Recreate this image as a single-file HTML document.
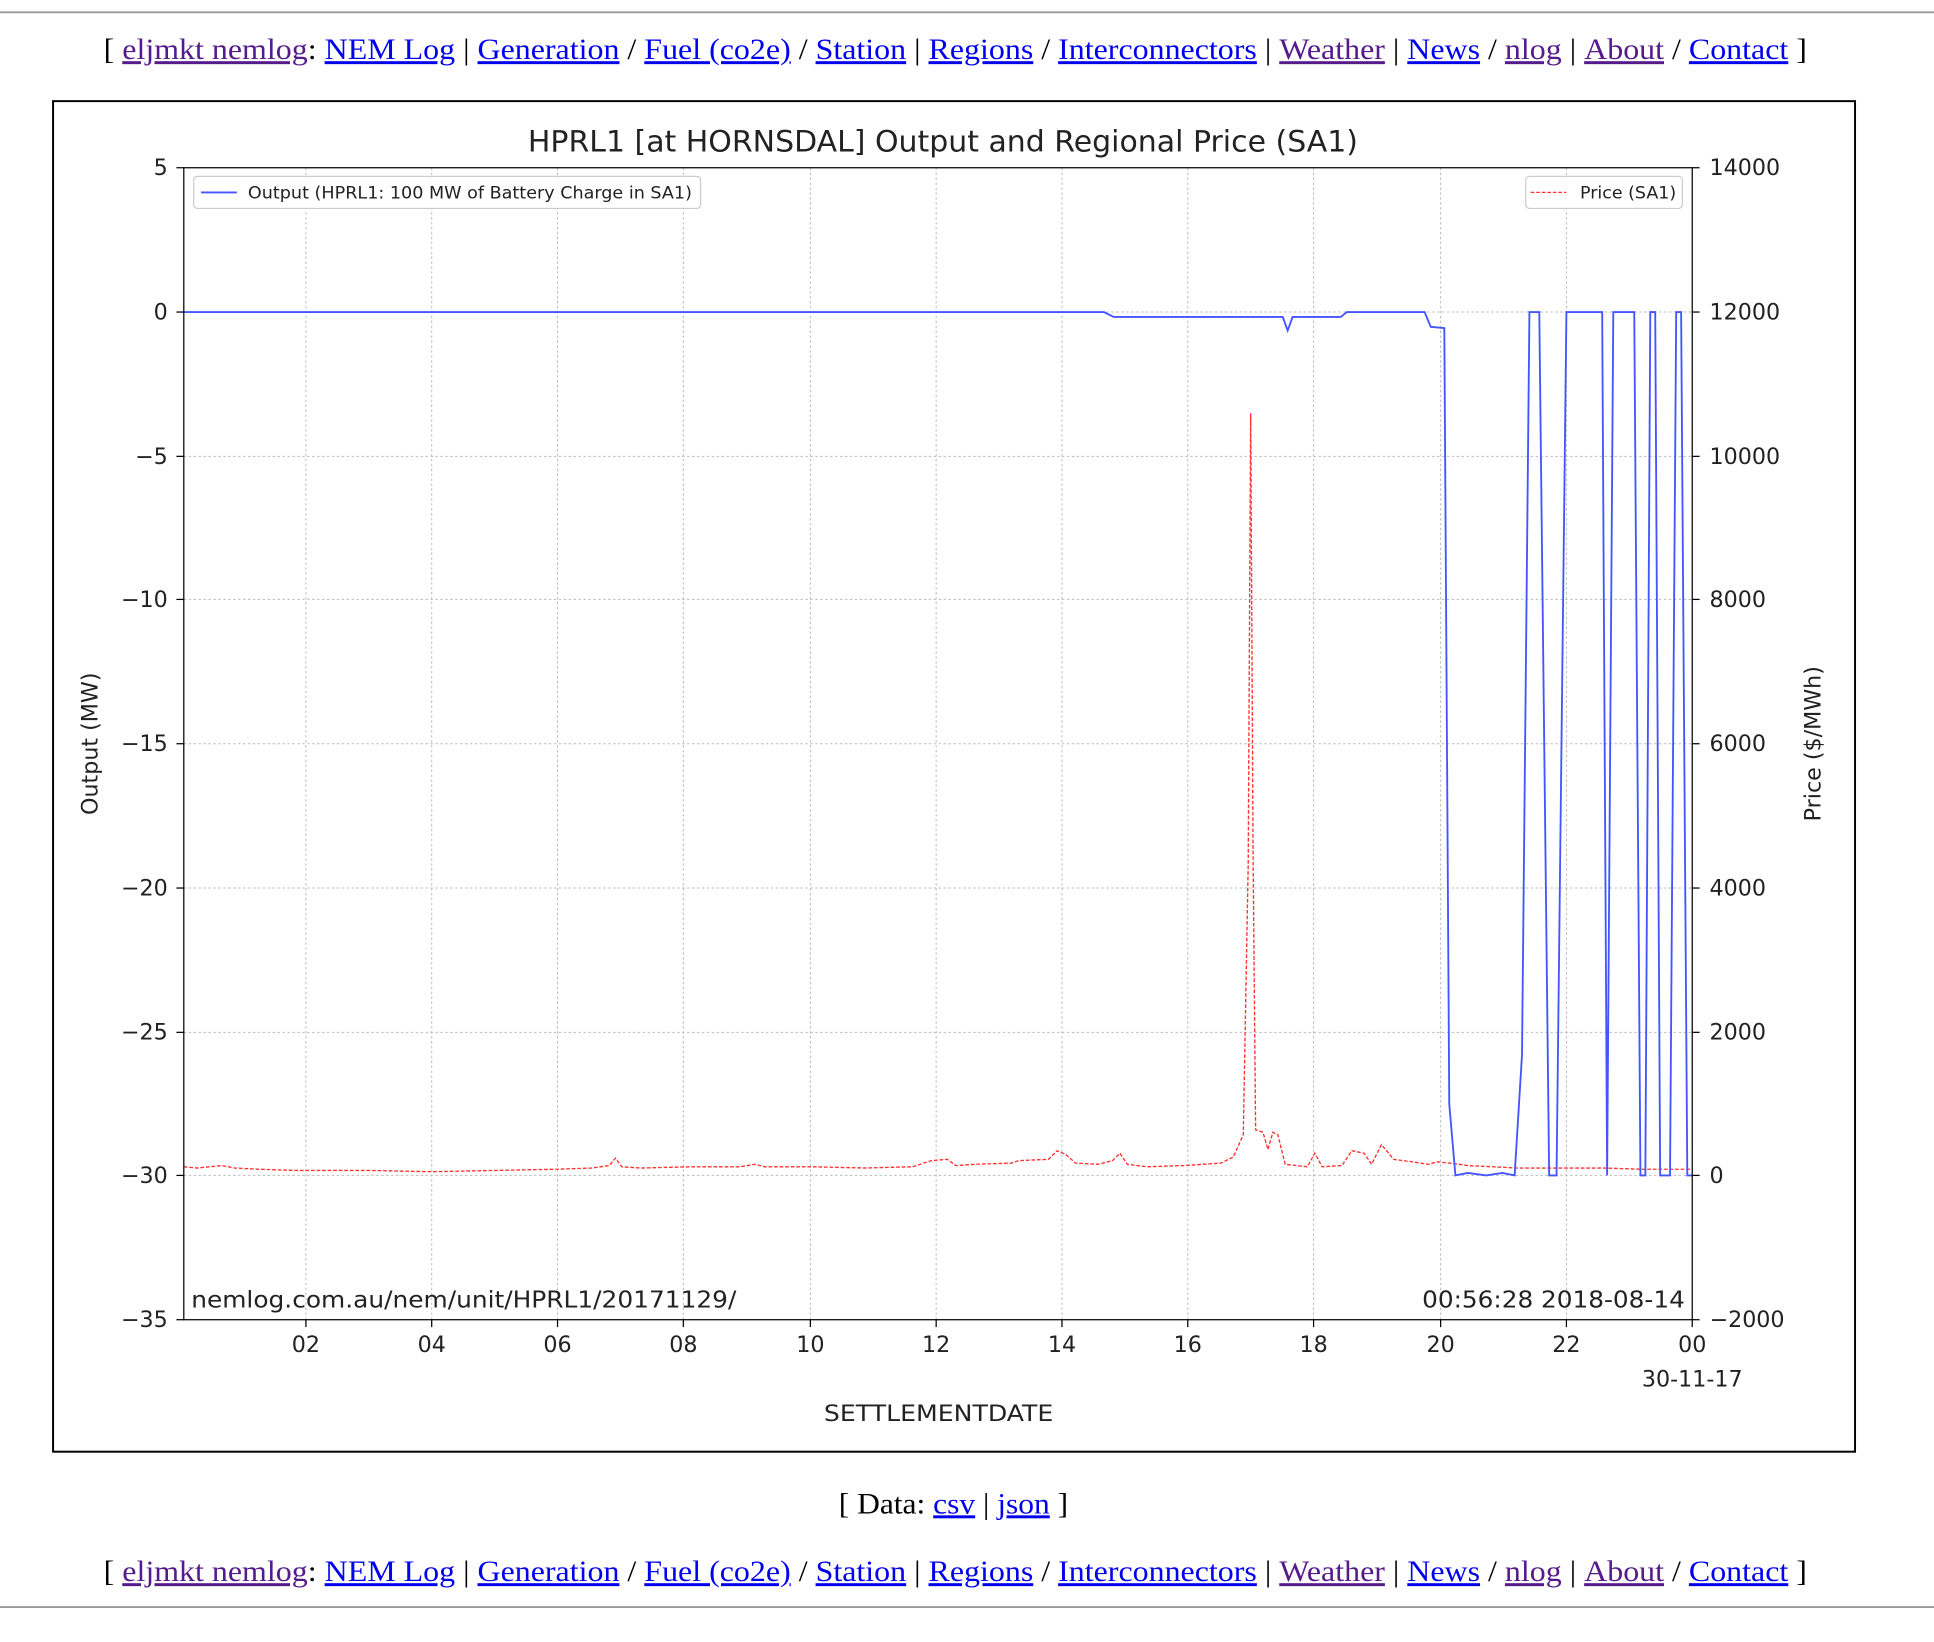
<!DOCTYPE html>
<html><head><meta charset="utf-8"><style>
html,body{margin:0;padding:0;background:#fff;}
svg{display:block}
</style></head><body>
<svg width="1934" height="1642" viewBox="0 0 1568 1331.3" xmlns="http://www.w3.org/2000/svg">
<rect x="0" y="0" width="1568" height="1332" fill="#fff"/>
<line x1="0" y1="10" x2="1568" y2="10" stroke="#999" stroke-width="1.5"/>
<g font-family="Liberation Serif, serif" font-size="24">
<text x="84" y="48" textLength="1381" lengthAdjust="spacingAndGlyphs">[ <tspan fill="#551a8b" text-decoration="underline">eljmkt nemlog</tspan>: <tspan fill="#0000ee" text-decoration="underline">NEM Log</tspan> | <tspan fill="#0000ee" text-decoration="underline">Generation</tspan> / <tspan fill="#0000ee" text-decoration="underline">Fuel (co2e)</tspan> / <tspan fill="#0000ee" text-decoration="underline">Station</tspan> | <tspan fill="#0000ee" text-decoration="underline">Regions</tspan> / <tspan fill="#0000ee" text-decoration="underline">Interconnectors</tspan> | <tspan fill="#551a8b" text-decoration="underline">Weather</tspan> | <tspan fill="#0000ee" text-decoration="underline">News</tspan> / <tspan fill="#551a8b" text-decoration="underline">nlog</tspan> | <tspan fill="#551a8b" text-decoration="underline">About</tspan> / <tspan fill="#0000ee" text-decoration="underline">Contact</tspan> ]</text>
<text x="84" y="1282" textLength="1381" lengthAdjust="spacingAndGlyphs">[ <tspan fill="#551a8b" text-decoration="underline">eljmkt nemlog</tspan>: <tspan fill="#0000ee" text-decoration="underline">NEM Log</tspan> | <tspan fill="#0000ee" text-decoration="underline">Generation</tspan> / <tspan fill="#0000ee" text-decoration="underline">Fuel (co2e)</tspan> / <tspan fill="#0000ee" text-decoration="underline">Station</tspan> | <tspan fill="#0000ee" text-decoration="underline">Regions</tspan> / <tspan fill="#0000ee" text-decoration="underline">Interconnectors</tspan> | <tspan fill="#551a8b" text-decoration="underline">Weather</tspan> | <tspan fill="#0000ee" text-decoration="underline">News</tspan> / <tspan fill="#551a8b" text-decoration="underline">nlog</tspan> | <tspan fill="#551a8b" text-decoration="underline">About</tspan> / <tspan fill="#0000ee" text-decoration="underline">Contact</tspan> ]</text>
<text x="680" y="1227" textLength="186" lengthAdjust="spacingAndGlyphs">[ Data: <tspan fill="#0000ee" text-decoration="underline">csv</tspan> | <tspan fill="#0000ee" text-decoration="underline">json</tspan> ]</text>
</g>
<line x1="0" y1="1303" x2="1568" y2="1303" stroke="#999" stroke-width="1.5"/>
<rect x="43" y="82" width="1461" height="1095" fill="#fff" stroke="#000" stroke-width="1.6"/>
<g stroke="#bbb" stroke-width="0.8" stroke-dasharray="2,2">
<line x1="248" y1="136" x2="248" y2="1070"/><line x1="350" y1="136" x2="350" y2="1070"/>
<line x1="452" y1="136" x2="452" y2="1070"/><line x1="554" y1="136" x2="554" y2="1070"/>
<line x1="657" y1="136" x2="657" y2="1070"/><line x1="759" y1="136" x2="759" y2="1070"/>
<line x1="861" y1="136" x2="861" y2="1070"/><line x1="963" y1="136" x2="963" y2="1070"/>
<line x1="1065" y1="136" x2="1065" y2="1070"/><line x1="1168" y1="136" x2="1168" y2="1070"/>
<line x1="1270" y1="136" x2="1270" y2="1070"/>
<line x1="149" y1="253" x2="1372" y2="253"/><line x1="149" y1="370" x2="1372" y2="370"/>
<line x1="149" y1="486" x2="1372" y2="486"/><line x1="149" y1="603" x2="1372" y2="603"/>
<line x1="149" y1="720" x2="1372" y2="720"/><line x1="149" y1="837" x2="1372" y2="837"/>
<line x1="149" y1="953" x2="1372" y2="953"/>
</g>
<polyline fill="none" stroke="#f33" stroke-width="1.1" stroke-dasharray="3,1.5" points="149,946 160,947 170,946 180,945 190,947 210,948 240,949 300,949 350,950 400,949 450,948 480,947 494,945 499,939 504,946 520,947 560,946 600,946 612,944 620,946 660,946 700,947 740,946 755,941 768,940 775,945 790,944 820,943 826,941 850,940 857,933 864,936 872,943 890,944 902,941 908,935 914,944 930,946 960,945 990,943 1000,938 1008,920 1012,700 1014,335 1016,700 1018,916 1024,918 1028,932 1032,918 1036,920 1042,944 1060,946 1066,935 1072,946 1088,945 1096,933 1106,935 1112,944 1120,928 1130,940 1145,942 1158,944 1165,942 1175,943 1190,945 1230,947 1260,947 1300,947 1330,948 1372,948"/>
<polyline fill="none" stroke="#4455ff" stroke-width="1.5" points="149,253 895,253 903,257 1040,257 1044,268 1048,257 1087,257 1092,253 1155,253 1160,265 1171,266 1175,895 1180,953 1190,951 1205,953 1218,951 1228,953 1234,855 1240,253 1248,253 1256,953 1262,953 1270,253 1299,253 1303,953 1308,253 1325,253 1330,953 1334,953 1338,253 1342,253 1346,953 1354,953 1359,253 1363,253 1368,953 1372,953"/>
<rect x="149" y="136" width="1223" height="934" fill="none" stroke="#000" stroke-width="1"/>
<g stroke="#000" stroke-width="1">
<line x1="143" y1="136" x2="149" y2="136"/><line x1="143" y1="253" x2="149" y2="253"/><line x1="143" y1="370" x2="149" y2="370"/><line x1="143" y1="486" x2="149" y2="486"/><line x1="143" y1="603" x2="149" y2="603"/><line x1="143" y1="720" x2="149" y2="720"/><line x1="143" y1="837" x2="149" y2="837"/><line x1="143" y1="953" x2="149" y2="953"/><line x1="143" y1="1070" x2="149" y2="1070"/>
<line x1="1372" y1="136" x2="1378" y2="136"/><line x1="1372" y1="253" x2="1378" y2="253"/><line x1="1372" y1="370" x2="1378" y2="370"/><line x1="1372" y1="486" x2="1378" y2="486"/><line x1="1372" y1="603" x2="1378" y2="603"/><line x1="1372" y1="720" x2="1378" y2="720"/><line x1="1372" y1="837" x2="1378" y2="837"/><line x1="1372" y1="953" x2="1378" y2="953"/><line x1="1372" y1="1070" x2="1378" y2="1070"/>
<line x1="248" y1="1070" x2="248" y2="1076"/><line x1="350" y1="1070" x2="350" y2="1076"/><line x1="452" y1="1070" x2="452" y2="1076"/><line x1="554" y1="1070" x2="554" y2="1076"/><line x1="657" y1="1070" x2="657" y2="1076"/><line x1="759" y1="1070" x2="759" y2="1076"/><line x1="861" y1="1070" x2="861" y2="1076"/><line x1="963" y1="1070" x2="963" y2="1076"/><line x1="1065" y1="1070" x2="1065" y2="1076"/><line x1="1168" y1="1070" x2="1168" y2="1076"/><line x1="1270" y1="1070" x2="1270" y2="1076"/><line x1="1372" y1="1070" x2="1372" y2="1076"/>
</g>
<g font-family="DejaVu Sans, sans-serif" font-size="18" fill="#222">
<text x="428" y="123" font-size="24" textLength="673" lengthAdjust="spacingAndGlyphs">HPRL1 [at HORNSDAL] Output and Regional Price (SA1)</text>
<g text-anchor="end">
<text x="136" y="142">5</text><text x="136" y="259">0</text><text x="136" y="376">−5</text><text x="136" y="492">−10</text><text x="136" y="609">−15</text><text x="136" y="726">−20</text><text x="136" y="843">−25</text><text x="136" y="959">−30</text><text x="136" y="1076">−35</text>
</g>
<g>
<text x="1386" y="142">14000</text><text x="1386" y="259">12000</text><text x="1386" y="376">10000</text><text x="1386" y="492">8000</text><text x="1386" y="609">6000</text><text x="1386" y="726">4000</text><text x="1386" y="843">2000</text><text x="1386" y="959">0</text><text x="1386" y="1076">−2000</text>
</g>
<g text-anchor="middle">
<text x="248" y="1096">02</text><text x="350" y="1096">04</text><text x="452" y="1096">06</text><text x="554" y="1096">08</text><text x="657" y="1096">10</text><text x="759" y="1096">12</text><text x="861" y="1096">14</text><text x="963" y="1096">16</text><text x="1065" y="1096">18</text><text x="1168" y="1096">20</text><text x="1270" y="1096">22</text><text x="1372" y="1096">00</text>
<text x="1372" y="1124">30-11-17</text>
<text transform="translate(79,603) rotate(-90)">Output (MW)</text>
<text transform="translate(1476,603) rotate(-90)">Price ($/MWh)</text>
</g>
<text x="668" y="1152" textLength="186" lengthAdjust="spacingAndGlyphs">SETTLEMENTDATE</text>
<text x="155" y="1060" font-size="19" textLength="442" lengthAdjust="spacingAndGlyphs">nemlog.com.au/nem/unit/HPRL1/20171129/</text>
<text x="1153" y="1060" font-size="19" textLength="213" lengthAdjust="spacingAndGlyphs">00:56:28 2018-08-14</text>
<rect x="157" y="143" width="411" height="26" rx="3" fill="#fff" fill-opacity="0.85" stroke="#ccc"/>
<line x1="163" y1="156" x2="192" y2="156" stroke="#4455ff" stroke-width="1.5"/>
<text x="201" y="161" font-size="14" textLength="360" lengthAdjust="spacingAndGlyphs">Output (HPRL1: 100 MW of Battery Charge in SA1)</text>
<rect x="1237" y="143" width="127" height="26" rx="3" fill="#fff" fill-opacity="0.85" stroke="#ccc"/>
<line x1="1241" y1="156" x2="1270" y2="156" stroke="#f33" stroke-width="1" stroke-dasharray="3,1.5"/>
<text x="1281" y="161" font-size="14" textLength="78" lengthAdjust="spacingAndGlyphs">Price (SA1)</text>
</g>
</svg>
</body></html>
